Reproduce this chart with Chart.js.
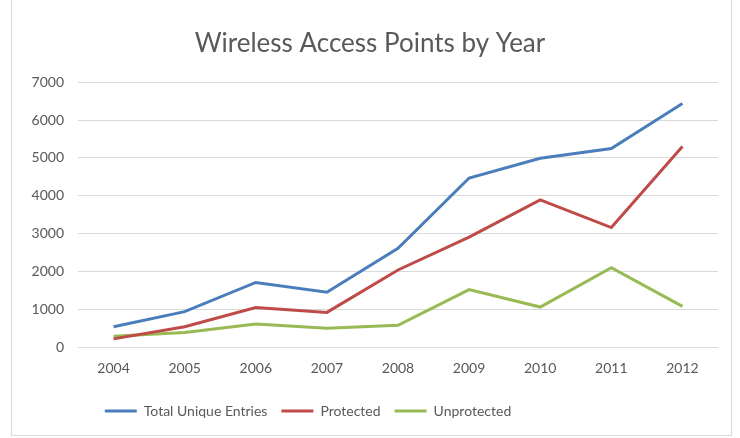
<!DOCTYPE html>
<html>
<head>
<meta charset="utf-8">
<script src="https://cdn.jsdelivr.net/npm/chart.js@4/dist/chart.umd.min.js"></script>
<style>
  html, body { margin: 0; padding: 0; background: #fff; }
  #wrap { position: relative; width: 740px; height: 438px; }
  #frame { position: absolute; left: 11px; top: 0; width: 721px; height: 436px; border-left: 1px solid #d9d9d9; border-right: 1px solid #d9d9d9; border-bottom: 1px solid #d9d9d9; box-sizing: border-box; pointer-events: none; }
</style>
</head>
<body>
<div id="wrap">
  <canvas id="myChart" width="740" height="438"></canvas>
  <div id="frame"></div>
</div>
<script>
const years = ['2004', '2005', '2006', '2007', '2008', '2009', '2010', '2011', '2012'];
const totalUnique = [540, 940, 1710, 1450, 2610, 4470, 4990, 5250, 6440];
const protectedAps = [220, 540, 1050, 920, 2040, 2910, 3890, 3160, 5300];
const unprotectedAps = [290, 390, 610, 500, 580, 1520, 1060, 2100, 1080];
const yTicks = [0, 1000, 2000, 3000, 4000, 5000, 6000, 7000];

const fontFamily = "Lato, 'Open Sans', sans-serif";

// Excel puts the legend a bit left of centre; move it over after layout
const shiftLegend = {
  id: 'shiftLegend',
  afterLayout(chart) {
    chart.legend.left -= 62;
    chart.legend.right -= 62;
  }
};

const ctx = document.getElementById('myChart').getContext('2d');
new Chart(ctx, {
  type: 'line',
  data: {
    labels: years,
    datasets: [
      { label: 'Total Unique Entries', data: totalUnique, borderColor: '#4a7ebb', backgroundColor: '#4a7ebb', borderWidth: 3 },
      { label: 'Protected', data: protectedAps, borderColor: '#be4b48', backgroundColor: '#be4b48', borderWidth: 3 },
      { label: 'Unprotected', data: unprotectedAps, borderColor: '#98b954', backgroundColor: '#98b954', borderWidth: 3 }
    ]
  },
  plugins: [shiftLegend],
  options: {
    responsive: false,
    animation: false,
    elements: {
      line: { tension: 0 },
      point: { radius: 0 }
    },
    layout: { padding: { left: 22, right: 22, top: 28, bottom: 10 } },
    plugins: {
      title: {
        display: true,
        text: 'Wireless Access Points by Year',
        color: '#595959',
        font: { family: fontFamily, size: 26, weight: 'normal' },
        padding: { top: 0, bottom: 23 }
      },
      legend: {
        position: 'bottom',
        labels: {
          usePointStyle: true,
          pointStyle: 'line',
          pointStyleWidth: 32,
          color: '#595959',
          font: { family: fontFamily, size: 14 },
          padding: 14
        }
      },
      tooltip: { enabled: false }
    },
    scales: {
      x: {
        offset: true,
        grid: { display: false, drawTicks: false },
        border: { display: false },
        ticks: { color: '#595959', font: { family: fontFamily, size: 14 }, padding: 13 }
      },
      y: {
        min: 0,
        max: 7000,
        afterFit: scale => { scale.width = 56; },
        afterBuildTicks: scale => { scale.ticks = yTicks.map(v => ({ value: v })); },
        grid: { color: '#d9d9d9', lineWidth: 1, drawTicks: false },
        border: { display: false },
        ticks: {
          color: '#595959',
          font: { family: fontFamily, size: 14 },
          padding: 14,
          callback: v => String(v)
        }
      }
    }
  }
});
</script>
</body>
</html>
